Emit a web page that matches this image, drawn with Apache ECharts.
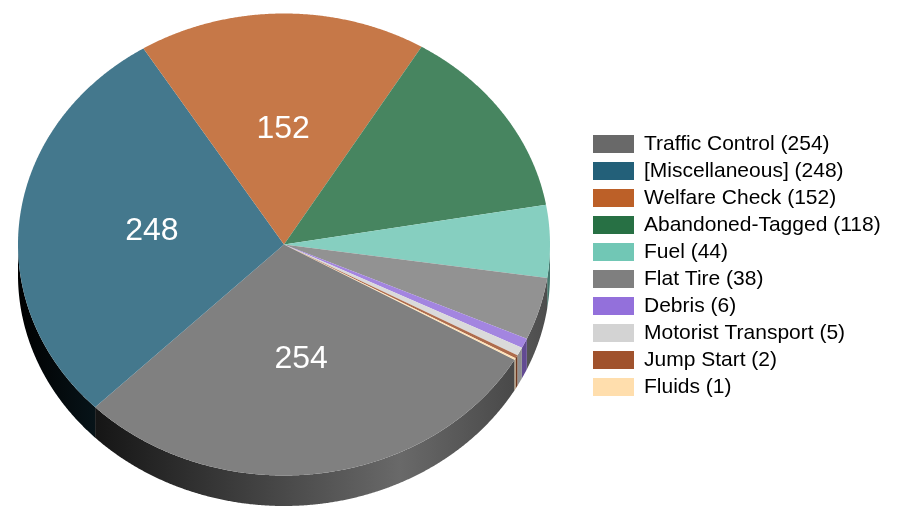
<!DOCTYPE html>
<html>
<head>
<meta charset="utf-8">
<style>html,body{margin:0;padding:0;background:#fff}#c{width:907px;height:509px}</style>
<script src="https://cdn.jsdelivr.net/npm/echarts@6/dist/echarts.min.js"></script>
</head>
<body>
<div id="c"></div>
<script>
const categories = ['Traffic Control','[Miscellaneous]','Welfare Check','Abandoned-Tagged','Fuel','Flat Tire','Debris','Motorist Transport','Jump Start','Fluids'];
const values = [254,248,152,118,44,38,6,5,2,1];
const colors = ['#696969','#236079','#bc6028','#277044','#71c7b5','#7f7f7f','#9370db','#d3d3d3','#a0522d','#ffdead'];
const labelMinimum = 150;

const CX = 284, CY = 244.5, RX = 266, RY = 231, DEPTH = 30.5, START_DEG = 119.9;
const TOP_TINT = 0.15;
const shadeStops = [[18,0],[400,1],[550,0.6]];
const total = values.reduce((a,b)=>a+b,0);

function hex(c){return [1,3,5].map(i=>parseInt(c.substr(i,2),16));}
function rgb(a){return 'rgb('+a.map(v=>Math.round(v)).join(',')+')';}
function tint(c,t){return rgb(hex(c).map(v=>v+(255-v)*t));}
function shade(c,s){return rgb(hex(c).map(v=>v*s));}
function pt(deg,f,dy){
  const a = deg*Math.PI/180;
  return [CX+RX*f*Math.sin(a), CY-RY*f*Math.cos(a)+(dy||0)];
}
function arc(a0,a1,dy){
  const n = Math.max(2,Math.ceil(Math.abs(a1-a0)/0.25));
  const out = [];
  for(let i=0;i<=n;i++) out.push(pt(a0+(a1-a0)*i/n,1,dy));
  return out;
}
function rimPolygon(a0,a1,color){
  const upper = arc(a0,a1,0), lower = arc(a1,a0,DEPTH);
  const x0 = shadeStops[0][0], x1 = shadeStops[shadeStops.length-1][0];
  const grad = new echarts.graphic.LinearGradient(x0,0,x1,0,
    shadeStops.map(s=>({offset:(s[0]-x0)/(x1-x0),color:shade(color,s[1])})),true);
  return {type:'polygon',shape:{points:upper.concat(lower)},style:{fill:grad}};
}
function renderSlice(params,api){
  const i = params.seriesIndex;
  const v = api.value(0);
  let before = 0;
  for(let k=0;k<i;k++) before += values[k];
  const a0 = START_DEG + before/total*360;
  const a1 = a0 + v/total*360;
  const children = [];
  // rim: visible where the surface faces the viewer (90..270 deg, also after one full turn)
  [0,360].forEach(turn=>{
    const s0 = Math.max(a0,90+turn), s1 = Math.min(a1,270+turn);
    if(s1>s0) children.push(rimPolygon(s0,s1,colors[i]));
  });
  children.push({type:'polygon',shape:{points:[[CX,CY]].concat(arc(a0,a1,0))},
    style:{fill:tint(colors[i],TOP_TINT)}});
  if(v>labelMinimum){
    const p = pt((a0+a1)/2,0.5,0);
    children.push({type:'text',style:{text:String(v),x:p[0],y:p[1],fill:'#fff',
      font:'32px "Liberation Sans", Arial, sans-serif',align:'center',verticalAlign:'middle'}});
  }
  return {type:'group',children};
}
const chart = echarts.init(document.getElementById('c'),null,{renderer:'canvas'});
chart.setOption({
  animation:false,
  backgroundColor:'#fff',
  legend:{
    orient:'vertical',left:593,top:133.5,itemWidth:41,itemHeight:18,itemGap:6,padding:0,
    icon:'rect',selectedMode:false,
    textStyle:{color:'#000',fontFamily:'"Liberation Sans", Arial, sans-serif',fontSize:21,lineHeight:18,padding:[0,0,0,5]}
  },
  tooltip:{show:false},
  series:categories.map((c,i)=>({
    type:'custom',
    name:c+' ('+values[i]+')',
    coordinateSystem:'none',
    silent:true,
    itemStyle:{color:colors[i]},
    renderItem:renderSlice,
    data:[[values[i]]]
  }))
});
</script>
</body>
</html>
